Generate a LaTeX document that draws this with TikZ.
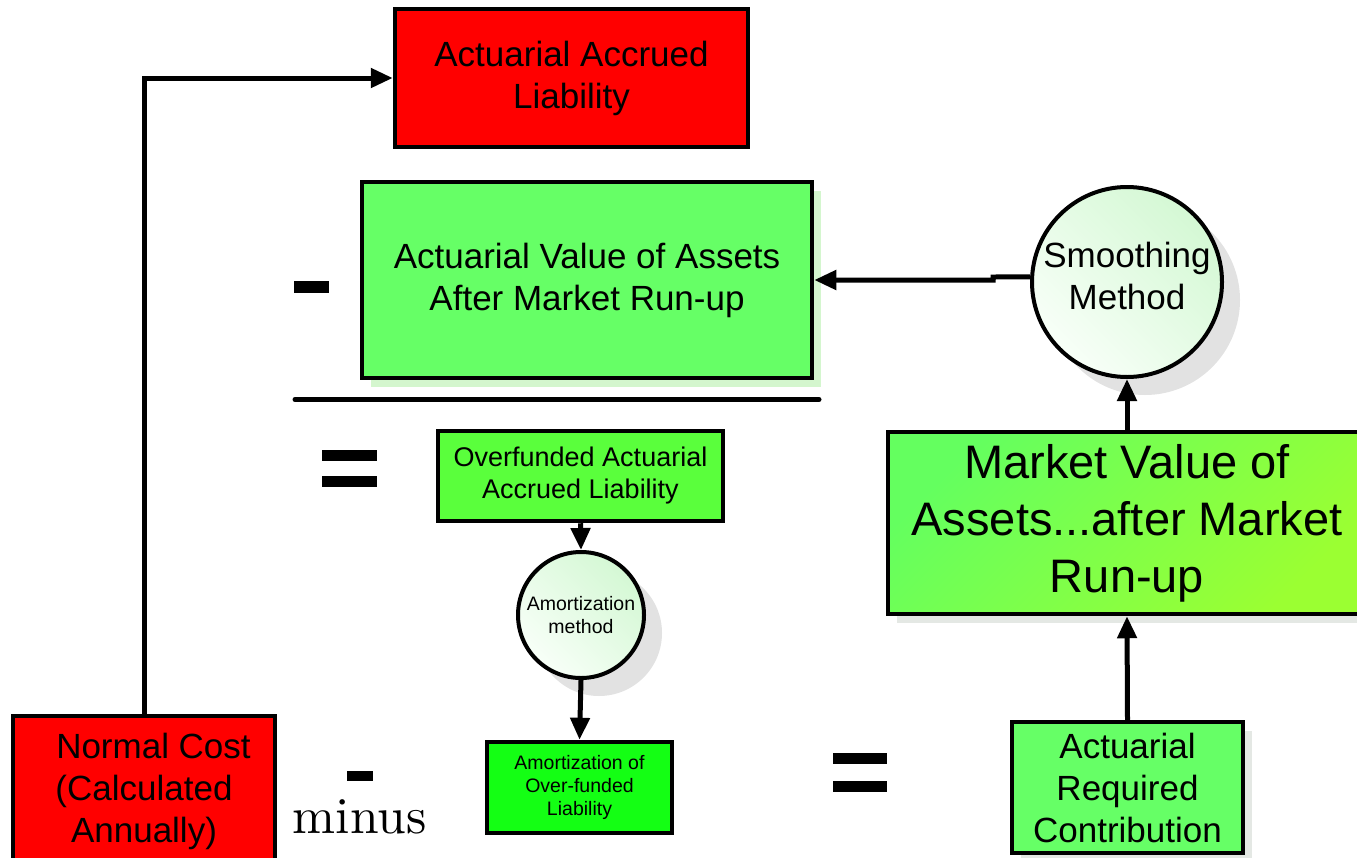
\documentclass[tikz,border=0pt]{standalone}
\usepackage{fontspec}
\newfontfamily\arial{Liberation Sans}
\usetikzlibrary{arrows.meta,shadows}
\definecolor{boxred}{RGB}{255,0,0}
\definecolor{lgreen}{RGB}{102,255,102}
\definecolor{ofgreen}{RGB}{90,255,60}
\definecolor{amgreen}{RGB}{20,255,20}
\definecolor{mvtop}{RGB}{100,255,95}
\definecolor{mvbot}{RGB}{155,255,50}
\definecolor{circA}{RGB}{212,248,212}
\definecolor{circB}{RGB}{248,255,248}
\definecolor{gshadow}{RGB}{212,246,206}
\definecolor{grshadow}{RGB}{228,232,228}
\definecolor{cshadow}{RGB}{226,226,226}
\begin{document}
\begin{tikzpicture}[x=1pt,y=-1pt,
  box/.style={draw=black, line width=4.5pt, rectangle, align=center, inner sep=0pt},
  txtL/.style={font={\arial\fontsize{35}{42}\selectfont}},
  txtXL/.style={font={\arial\fontsize{47}{57}\selectfont}},
  txtM/.style={font={\arial\fontsize{27}{32}\selectfont}},
  txtS/.style={font={\arial\fontsize{19.5}{23}\selectfont}},
  greenshadow/.style={drop shadow={shadow xshift=9pt, shadow yshift=-9pt, fill=gshadow, opacity=1}},
  grayshadow/.style={drop shadow={shadow xshift=9pt, shadow yshift=-9pt, fill=grshadow, opacity=1}},
  method/.style={circle, draw=black, line width=4pt, align=center, inner sep=0pt,
    left color=circA, right color=circB, shading angle=-45,
    drop shadow={shadow xshift=18pt, shadow yshift=-18pt, fill=cshadow, opacity=1}},
  link/.style={line width=5pt, -{Triangle[length=22pt,width=19pt]}},
  bar/.style={fill=black},
]
\useasboundingbox (0,0) rectangle (1357,857);

% boxes
\node[box, txtL, fill=boxred, minimum width=353pt, minimum height=138pt]
  (aal) at (571.5,78) {Actuarial Accrued\\Liability};
\node[box, txtL, fill=lgreen, greenshadow, minimum width=450pt, minimum height=196pt]
  (ava) at (587,280) {Actuarial Value of Assets\\After Market Run-up};
\node[box, txtM, fill=ofgreen, minimum width=285pt, minimum height=90pt]
  (ofl) at (580.5,476) {Overfunded Actuarial\\Accrued Liability};
\node[method, txtS, minimum size=126pt] (amm) at (581,615) {Amortization\\method};
\node[box, txtS, fill=amgreen, minimum width=185pt, minimum height=91pt]
  (amo) at (579.5,787.5) {Amortization of\\Over-funded\\Liability};
\node[box, txtL, fill=boxred, minimum width=262pt, minimum height=150pt]
  (nc) at (144,791) {\hspace*{19pt}Normal Cost\\(Calculated\\Annually)};
\node[method, txtL, minimum size=190pt] (smo) at (1127,282) {Smoothing\\Method\\[-29pt]\mbox{}};
\node[box, txtXL, grayshadow, top color=mvtop, bottom color=mvbot, shading angle=45,
  minimum width=478pt, minimum height=182pt]
  (mv) at (1127,523) {Market Value of\\Assets...after Market\\Run-up};
\node[box, txtL, fill=lgreen, grayshadow, minimum width=231pt, minimum height=131pt]
  (arc) at (1127.5,787.5) {Actuarial\\Required\\Contribution};

% connectors
\coordinate (j1) at (993,277);
\coordinate (j2) at (993,280);
\draw[link] (nc.north) |- (aal.west);
\draw[link] (smo.177) -- (j1) -- (j2) -- (ava.east);
\draw[link] (mv.north) -- (smo.south);
\draw[link] (arc.north) -- (mv.south);
\draw[link] (ofl.south) -- (amm.north);
\draw[link] (amm.south) -- (amo.north);

% arithmetic signs
\fill[bar] (294,281) rectangle (329,293);
\draw[line width=5pt, line cap=round] (295,399.5) -- (819,399.5);
\fill[bar] (322,450) rectangle (377,461);
\fill[bar] (322,476) rectangle (377,487);
\fill[bar] (347,771) rectangle (373,781);
\fill[bar] (833,753) rectangle (887,764);
\fill[bar] (833,781) rectangle (887,792);
\node[anchor=base, inner sep=0pt, font={\fontsize{10}{12}\selectfont}] (mn) at (359.5,833)
  {\scalebox{5.16}{minus}};
\end{tikzpicture}
\end{document}
